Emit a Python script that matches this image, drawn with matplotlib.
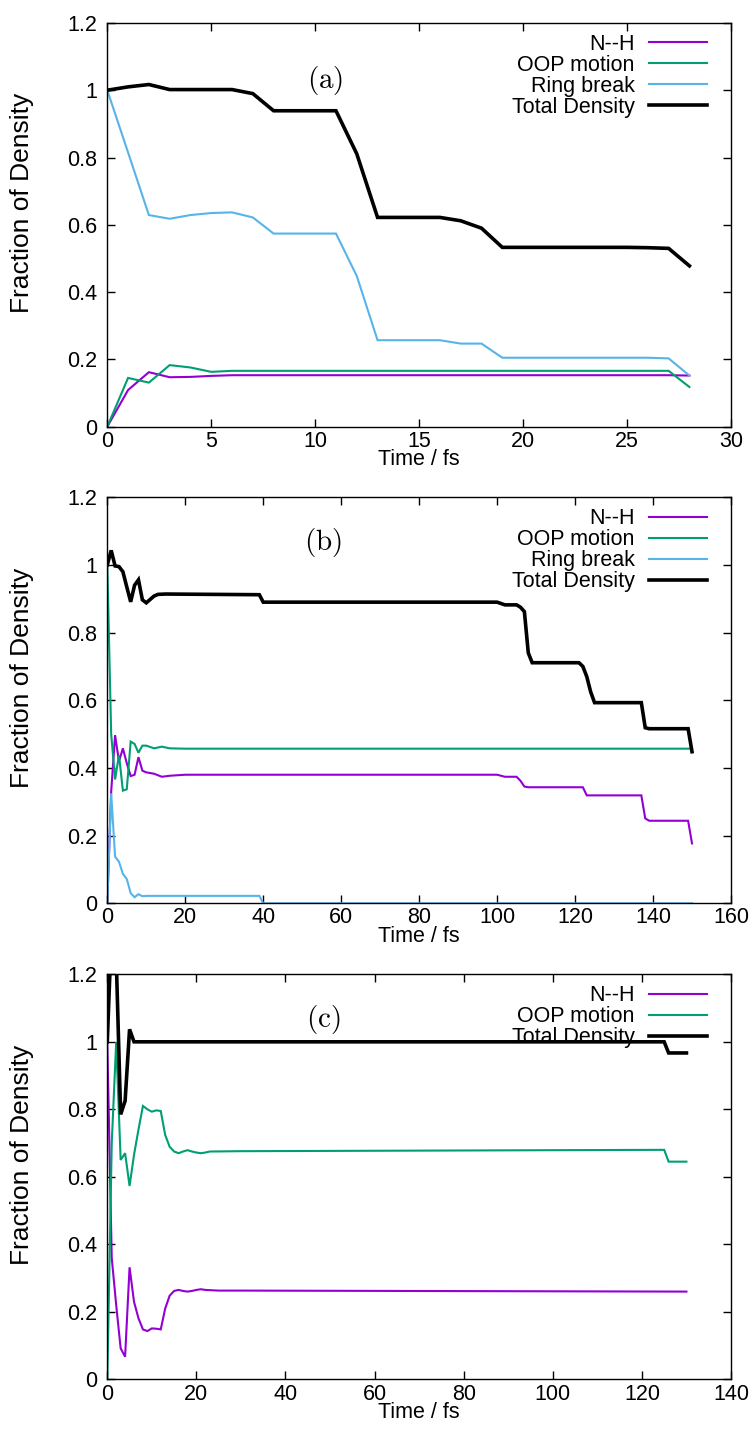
import matplotlib
matplotlib.use('Agg')
import matplotlib.pyplot as plt

plt.rcParams['font.family'] = ['Liberation Sans', 'DejaVu Sans']
plt.rcParams['mathtext.fontset'] = 'cm'

# ---------------- Panel (a) ----------------
time_a = list(range(29))
nh_a = [0.000, 0.109, 0.162, 0.147, 0.148, 0.151, 0.153, 0.153, 0.153, 0.153,
        0.153, 0.153, 0.153, 0.153, 0.153, 0.153, 0.153, 0.153, 0.153, 0.153,
        0.153, 0.153, 0.153, 0.153, 0.153, 0.153, 0.153, 0.153, 0.152]
oop_a = [0.000, 0.145, 0.131, 0.183, 0.176, 0.163, 0.166, 0.166, 0.166, 0.166,
         0.166, 0.166, 0.166, 0.166, 0.166, 0.166, 0.166, 0.166, 0.166, 0.166,
         0.166, 0.166, 0.166, 0.166, 0.166, 0.166, 0.166, 0.166, 0.118]
ring_a = [1.000, 0.815, 0.629, 0.618, 0.629, 0.635, 0.637, 0.622, 0.574, 0.574,
          0.574, 0.574, 0.448, 0.257, 0.257, 0.257, 0.257, 0.247, 0.247, 0.205,
          0.205, 0.205, 0.205, 0.205, 0.205, 0.205, 0.205, 0.203, 0.152]
total_a = [1.000, 1.010, 1.017, 1.002, 1.002, 1.002, 1.002, 0.990, 0.939, 0.939,
           0.939, 0.939, 0.811, 0.622, 0.622, 0.622, 0.622, 0.612, 0.590, 0.533,
           0.533, 0.533, 0.533, 0.533, 0.533, 0.533, 0.532, 0.530, 0.478]

# ---------------- Panel (b) ----------------
time_b_nh = [0, 1, 2, 3, 4, 5, 6, 7, 8, 9, 10, 12, 14, 16, 20, 100, 102, 105, 106,
             107, 108, 122, 123, 137, 138, 139, 149, 150]
nh_b = [0.000, 0.330, 0.497, 0.419, 0.458, 0.414, 0.376, 0.380, 0.432, 0.392,
        0.387, 0.383, 0.374, 0.377, 0.380, 0.380, 0.374, 0.374, 0.362, 0.345,
        0.343, 0.343, 0.319, 0.319, 0.251, 0.244, 0.244, 0.177]
time_b_oop = [0, 1, 2, 3, 4, 5, 6, 7, 8, 9, 10, 12, 14, 16, 20, 150]
oop_b = [1.000, 0.500, 0.366, 0.438, 0.333, 0.337, 0.478, 0.471, 0.445, 0.466,
         0.466, 0.458, 0.463, 0.458, 0.457, 0.457]
time_b_ring = [0, 1, 2, 3, 4, 5, 6, 7, 8, 9, 10, 39, 40, 150]
ring_b = [0.000, 0.325, 0.138, 0.123, 0.087, 0.072, 0.030, 0.018, 0.027, 0.021,
          0.022, 0.022, 0.000, 0.000]
time_b_total = [0, 1, 2, 3, 4, 5, 6, 7, 8, 9, 10, 11, 12, 13, 15, 39, 40, 100, 102,
                105, 106, 107, 108, 109, 121, 122, 123, 124, 125, 137, 138, 139,
                149, 150]
total_b = [1.000, 1.043, 0.997, 0.995, 0.980, 0.935, 0.891, 0.940, 0.956, 0.897,
           0.888, 0.898, 0.908, 0.913, 0.914, 0.912, 0.890, 0.890, 0.882, 0.882,
           0.875, 0.862, 0.740, 0.711, 0.711, 0.700, 0.670, 0.625, 0.593, 0.593,
           0.519, 0.516, 0.516, 0.448]

# ---------------- Panel (c) ----------------
time_c_nh = [0, 1, 2, 3, 4, 5, 6, 7, 8, 9, 10, 11, 12, 13, 14, 15, 16, 17, 18,
             19, 20, 21, 22, 25, 30, 130]
nh_c = [1.000, 0.360, 0.220, 0.092, 0.067, 0.332, 0.230, 0.181, 0.148, 0.143,
        0.151, 0.150, 0.148, 0.210, 0.248, 0.262, 0.265, 0.262, 0.260, 0.262,
        0.265, 0.267, 0.265, 0.263, 0.263, 0.260]
time_c_oop = [0, 1, 2, 3, 4, 5, 6, 7, 8, 9, 10, 11, 12, 13, 14, 15, 16, 17, 18,
              19, 20, 21, 22, 23, 30, 125, 126, 130]
oop_c = [0.000, 0.700, 1.000, 0.650, 0.670, 0.573, 0.665, 0.740, 0.810, 0.800,
         0.793, 0.797, 0.795, 0.724, 0.689, 0.675, 0.670, 0.675, 0.679, 0.675,
         0.672, 0.670, 0.672, 0.675, 0.676, 0.680, 0.645, 0.645]
time_c_total = [0, 1, 2, 3, 4, 5, 6, 125, 126, 130]
total_c = [1.000, 1.350, 1.250, 0.785, 0.825, 1.037, 1.000, 1.000, 0.967, 0.967]

# ---------------- Labels / ticks ----------------
series_labels = ['N--H', 'OOP motion', 'Ring break', 'Total Density']
series_colors = ['#9400d3', '#009e73', '#56b4e9', '#000000']
panel_tags = ['(a)', '(b)', '(c)']
xticks_a = [0, 5, 10, 15, 20, 25, 30]
xticks_b = [0, 20, 40, 60, 80, 100, 120, 140, 160]
xticks_c = [0, 20, 40, 60, 80, 100, 120, 140]
yticks = [0, 0.2, 0.4, 0.6, 0.8, 1.0, 1.2]
ytick_labels = ['0', '0.2', '0.4', '0.6', '0.8', '1', '1.2']

panels = [
    dict(series=[(time_a, nh_a, 0), (time_a, oop_a, 1), (time_a, ring_a, 2), (time_a, total_a, 3)],
         xticks=xticks_a, tagpos=(10.5, 1.03),
         rect=(0.1421, 0.7043, 0.8261, 0.2798)),
    dict(series=[(time_b_nh, nh_b, 0), (time_b_oop, oop_b, 1), (time_b_ring, ring_b, 2),
                 (time_b_total, total_b, 3)],
         xticks=xticks_b, tagpos=(55.4, 1.065),
         rect=(0.1421, 0.3740, 0.8261, 0.2814)),
    dict(series=[(time_c_nh, nh_c, 0), (time_c_oop, oop_c, 1), (time_c_total, total_c, 3)],
         xticks=xticks_c, tagpos=(48.6, 1.065),
         rect=(0.1421, 0.0441, 0.8261, 0.2807)),
]

fig = plt.figure(figsize=(7.55, 14.43), dpi=100)

for tag, p in zip(panel_tags, panels):
    ax = fig.add_axes(p['rect'])
    for t, v, k in p['series']:
        lw = 2.6 if k == 3 else 1.5
        ax.plot(t, v, color=series_colors[k], lw=lw, label=series_labels[k],
                solid_joinstyle='miter')
    ax.set_xlim(p['xticks'][0], p['xticks'][-1])
    ax.set_ylim(0, 1.2)
    ax.set_xticks(p['xticks'])
    ax.set_xticklabels([str(x) for x in p['xticks']])
    ax.set_yticks(yticks)
    ax.set_yticklabels(ytick_labels)
    ax.tick_params(direction='in', top=True, right=True, length=6, width=1,
                   labelsize=15.5, colors='black')
    ax.tick_params(axis='x', pad=3)
    ax.tick_params(axis='y', pad=7)
    for s in ax.spines.values():
        s.set_linewidth(1.0)
    ax.set_xlabel('Time / fs', fontsize=15.5, labelpad=-2)
    ax.set_ylabel('Fraction of Density', fontsize=19)
    ax.yaxis.set_label_coords(-0.117, 0.555)
    ax.text(p['tagpos'][0], p['tagpos'][1], r'$\mathrm{' + tag + '}$',
            ha='center', va='center', fontsize=21)
    ax.legend(loc='upper right', bbox_to_anchor=(0.9615, 0.973), frameon=False,
              markerfirst=False, fontsize=15.5, handlelength=2.7, handletextpad=0.65,
              labelspacing=0.0, borderpad=0, borderaxespad=0)

fig.savefig('out.png', dpi=100)
